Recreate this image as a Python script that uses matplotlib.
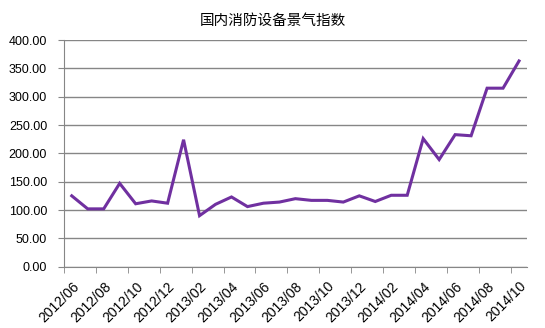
import numpy as np
import matplotlib
matplotlib.use('Agg')
import matplotlib.pyplot as plt

plt.rcParams['font.family'] = ['Liberation Sans', 'DejaVu Sans']

# monthly index 2012/06 .. 2014/10
months = ['2012/06', '2012/07', '2012/08', '2012/09', '2012/10', '2012/11', '2012/12',
          '2013/01', '2013/02', '2013/03', '2013/04', '2013/05', '2013/06', '2013/07',
          '2013/08', '2013/09', '2013/10', '2013/11', '2013/12', '2014/01', '2014/02',
          '2014/03', '2014/04', '2014/05', '2014/06', '2014/07', '2014/08', '2014/09',
          '2014/10']
values = [125, 102, 102, 147, 111, 116, 112, 224, 90, 110, 123, 106, 112, 114, 120,
          117, 117, 114, 125, 115, 126, 126, 226, 189, 233, 231, 315, 315, 363]
title = '国内消防设备景气指数'

fig = plt.figure(figsize=(5.45, 3.28), dpi=100)
ax = fig.add_axes([0.117, 0.187, 0.85, 0.691])

x = np.arange(len(months))
ax.plot(x, values, color='#7030A0', linewidth=2.2, solid_joinstyle='miter', zorder=3)

ax.set_xlim(-0.5, len(months) - 0.5)
ax.set_ylim(0, 400)
yt = np.arange(0, 401, 50)
ax.set_yticks(yt)
ax.set_yticklabels(['%.2f' % v for v in yt], fontsize=9)
ax.yaxis.grid(True, color='#868686', linewidth=1.0)
ax.set_axisbelow(True)

ax.set_xticks(x[::2])
ax.set_xticklabels(months[::2], rotation=45, ha='right', rotation_mode='anchor', fontsize=10)
ax.set_xticks(np.arange(-0.5, len(months), 2), minor=True)
ax.tick_params(axis='x', which='major', length=0, pad=9)
ax.tick_params(axis='x', which='minor', length=4, color='#868686')
ax.tick_params(axis='y', length=4, color='#868686', pad=8)

for s in ['top', 'right']:
    ax.spines[s].set_visible(False)
for s in ['left', 'bottom']:
    ax.spines[s].set_color('#868686')

fig.text(0.5, 0.935, title, ha='center', va='center', fontsize=10.5,
         family=['Noto Sans CJK SC', 'DejaVu Sans'])

fig.savefig('out.png', dpi=100)
